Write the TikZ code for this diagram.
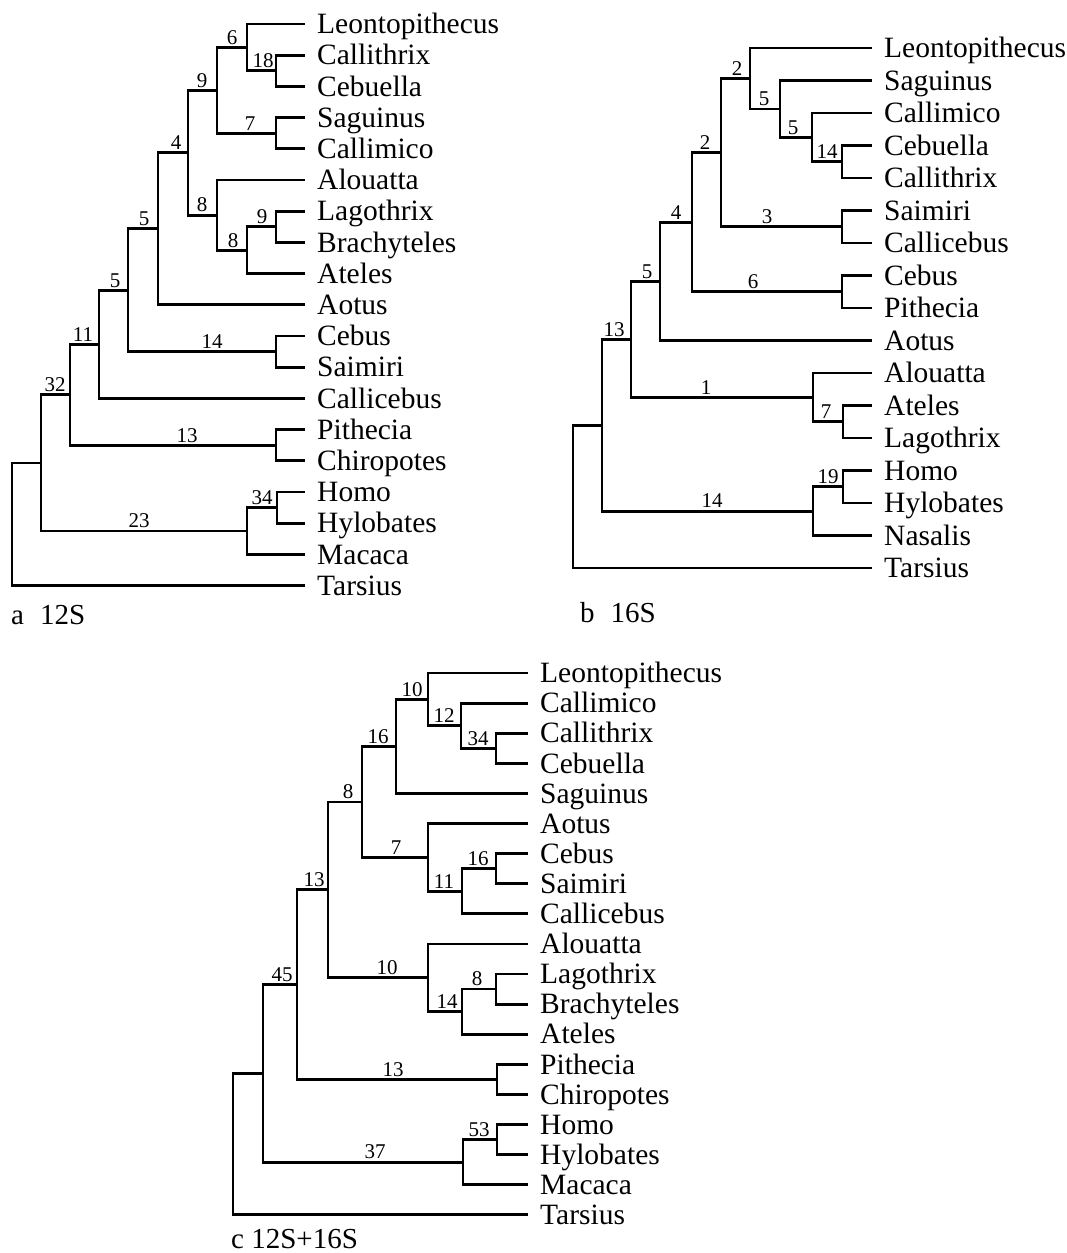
\documentclass[tikz,border=0pt]{standalone}
\usepackage{fontspec}
\setmainfont{Liberation Serif}
\tikzset{
  br/.style={line width=2.8pt, line join=miter},
  lf/.style={font=\fontsize{29.5}{30}\selectfont, anchor=west, inner xsep=12pt, inner ysep=0pt, text height=19.5pt, text depth=0pt},
  bs/.style={font=\fontsize{21}{21}\selectfont, anchor=south, inner sep=0pt, text depth=0pt, yshift=3pt},
  capt/.style={font=\fontsize{29}{29}\selectfont, anchor=base west, inner sep=0pt}
}
\begin{document}
\begin{tikzpicture}[x=1pt,y=-1pt]
\useasboundingbox (0,0) rectangle (1067,1253);

% ================= Tree a (12S) =================
\node[lf] (aLeon)    at (305,24)    {Leontopithecus};
\node[lf] (aCallith) at (305,55.2)  {Callithrix};
\node[lf] (aCebu)    at (305,86.4)  {Cebuella};
\node[lf] (aSagu)    at (305,117.6) {Saguinus};
\node[lf] (aCallim)  at (305,148.8) {Callimico};
\node[lf] (aAlou)    at (305,180)   {Alouatta};
\node[lf] (aLago)    at (305,211.2) {Lagothrix};
\node[lf] (aBrach)   at (305,242.4) {Brachyteles};
\node[lf] (aAteles)  at (305,273.6) {Ateles};
\node[lf] (aAotus)   at (305,304.8) {Aotus};
\node[lf] (aCebus)   at (305,336)   {Cebus};
\node[lf] (aSaim)    at (305,367.2) {Saimiri};
\node[lf] (aCallic)  at (305,398.4) {Callicebus};
\node[lf] (aPith)    at (305,429.6) {Pithecia};
\node[lf] (aChiro)   at (305,460.8) {Chiropotes};
\node[lf] (aHomo)    at (305,492)   {Homo};
\node[lf] (aHylo)    at (305,523.2) {Hylobates};
\node[lf] (aMac)     at (305,554.4) {Macaca};
\node[lf] (aTars)    at (305,585.6) {Tarsius};

\coordinate (a18)   at (276,70.8);
\coordinate (a6)    at (247,47.4);
\coordinate (a7)    at (276,133.2);
\coordinate (a9)    at (217,90.3);
\coordinate (a9b)   at (276,226.8);
\coordinate (a8b)   at (247,250.2);
\coordinate (a8)    at (217,215.1);
\coordinate (a4)    at (188,152.7);
\coordinate (a5)    at (158,228.75);
\coordinate (a14)   at (276,351.6);
\coordinate (a5b)   at (128,290.2);
\coordinate (a11)   at (99,344.3);
\coordinate (a13)   at (276,445.2);
\coordinate (a32)   at (70,394.7);
\coordinate (a34)   at (277,507.6);
\coordinate (a23)   at (247,531);
\coordinate (aR1)   at (41,462.9);
\coordinate (aRoot) at (12,524.2);

\draw[br] (aLeon.west) -| (a6) |- (a18);
\draw[br] (aCallith.west) -| (a18) |- (aCebu.west);
\draw[br] (aSagu.west) -| (a7) |- (aCallim.west);
\draw[br] (a6) -| (a9) |- (a7);
\draw[br] (aLago.west) -| (a9b) |- (aBrach.west);
\draw[br] (a9b) -| (a8b) |- (aAteles.west);
\draw[br] (aAlou.west) -| (a8) |- (a8b);
\draw[br] (a9) -| (a4) |- (a8);
\draw[br] (a4) -| (a5) |- (aAotus.west);
\draw[br] (aCebus.west) -| (a14) |- (aSaim.west);
\draw[br] (a5) -| (a5b) |- (a14);
\draw[br] (a5b) -| (a11) |- (aCallic.west);
\draw[br] (aPith.west) -| (a13) |- (aChiro.west);
\draw[br] (a11) -| (a32) |- (a13);
\draw[br] (aHomo.west) -| (a34) |- (aHylo.west);
\draw[br] (a34) -| (a23) |- (aMac.west);
\draw[br] (a32) -| (aR1) |- (a23);
\draw[br] (aR1) -| (aRoot) |- (aTars.west);

\node[bs] (la1)  at (232,47.4)  {6};
\node[bs] (la2)  at (263,70.8)  {18};
\node[bs] (la3)  at (202,90.3)  {9};
\node[bs] (la4)  at (250,133.2) {7};
\node[bs] (la5)  at (176,152.7) {4};
\node[bs] (la6)  at (202,215.1) {8};
\node[bs] (la7)  at (262,226.8) {9};
\node[bs] (la8)  at (233,250.2) {8};
\node[bs] (la9)  at (144,228.75){5};
\node[bs] (la10) at (212,351.6) {14};
\node[bs] (la11) at (115,290.2) {5};
\node[bs] (la12) at (83,344.3)  {11};
\node[bs] (la13) at (187,445.2) {13};
\node[bs] (la14) at (55,394.7)  {32};
\node[bs] (la15) at (262,507.6) {34};
\node[bs] (la16) at (139,531)   {23};

\node[capt] (capa) at (11,624) {a\hspace{0.55em}12S};

% ================= Tree b (16S) =================
\node[lf] (bLeon)    at (872,48)    {Leontopithecus};
\node[lf] (bSagu)    at (872,80.5)  {Saguinus};
\node[lf] (bCallim)  at (872,113)   {Callimico};
\node[lf] (bCebu)    at (872,145.5) {Cebuella};
\node[lf] (bCallith) at (872,178)   {Callithrix};
\node[lf] (bSaim)    at (872,210.5) {Saimiri};
\node[lf] (bCallic)  at (872,243)   {Callicebus};
\node[lf] (bCebus)   at (872,275.5) {Cebus};
\node[lf] (bPith)    at (872,308)   {Pithecia};
\node[lf] (bAotus)   at (872,340.5) {Aotus};
\node[lf] (bAlou)    at (872,373)   {Alouatta};
\node[lf] (bAteles)  at (872,405.5) {Ateles};
\node[lf] (bLago)    at (872,438)   {Lagothrix};
\node[lf] (bHomo)    at (872,470.5) {Homo};
\node[lf] (bHylo)    at (872,503)   {Hylobates};
\node[lf] (bNas)     at (872,535.5) {Nasalis};
\node[lf] (bTars)    at (872,568)   {Tarsius};

\coordinate (b14)   at (842,161.75);
\coordinate (b5i)   at (812,137.4);
\coordinate (b5)    at (780,108.9);
\coordinate (b2)    at (750,78.5);
\coordinate (b3)    at (842,226.75);
\coordinate (b2b)   at (721,152.6);
\coordinate (b6)    at (842,291.75);
\coordinate (b4)    at (692,222.2);
\coordinate (b5b)   at (660,281.3);
\coordinate (b7)    at (843,421.75);
\coordinate (b1)    at (813,397.4);
\coordinate (b13)   at (631,339.4);
\coordinate (b19)   at (843,486.75);
\coordinate (b14b)  at (813,511.1);
\coordinate (bR1)   at (602,425.3);
\coordinate (bRoot) at (573,496.6);

\draw[br] (bCebu.west) -| (b14) |- (bCallith.west);
\draw[br] (bCallim.west) -| (b5i) |- (b14);
\draw[br] (bSagu.west) -| (b5) |- (b5i);
\draw[br] (bLeon.west) -| (b2) |- (b5);
\draw[br] (bSaim.west) -| (b3) |- (bCallic.west);
\draw[br] (b2) -| (b2b) |- (b3);
\draw[br] (bCebus.west) -| (b6) |- (bPith.west);
\draw[br] (b2b) -| (b4) |- (b6);
\draw[br] (b4) -| (b5b) |- (bAotus.west);
\draw[br] (bAteles.west) -| (b7) |- (bLago.west);
\draw[br] (bAlou.west) -| (b1) |- (b7);
\draw[br] (b5b) -| (b13) |- (b1);
\draw[br] (bHomo.west) -| (b19) |- (bHylo.west);
\draw[br] (b19) -| (b14b) |- (bNas.west);
\draw[br] (b13) -| (bR1) |- (b14b);
\draw[br] (bR1) -| (bRoot) |- (bTars.west);

\node[bs] (lb1)  at (737,78.5)   {2};
\node[bs] (lb2)  at (764,108.9)  {5};
\node[bs] (lb3)  at (793,137.4)  {5};
\node[bs] (lb4)  at (827,161.75) {14};
\node[bs] (lb5)  at (705,152.6)  {2};
\node[bs] (lb6)  at (767,226.75) {3};
\node[bs] (lb7)  at (676,222.2)  {4};
\node[bs] (lb8)  at (753,291.75) {6};
\node[bs] (lb9)  at (647,281.3)  {5};
\node[bs] (lb10) at (614,339.4)  {13};
\node[bs] (lb11) at (706,397.4)  {1};
\node[bs] (lb12) at (826,421.75) {7};
\node[bs] (lb13) at (828,486.75) {19};
\node[bs] (lb14) at (712,511.1)  {14};

\node[capt] (capb) at (580,622) {b\hspace{0.55em}16S};

% ================= Tree c (12S+16S) =================
\node[lf] (cLeon)    at (528,673)    {Leontopithecus};
\node[lf] (cCallim)  at (528,703.1)  {Callimico};
\node[lf] (cCallith) at (528,733.2)  {Callithrix};
\node[lf] (cCebu)    at (528,763.3)  {Cebuella};
\node[lf] (cSagu)    at (528,793.4)  {Saguinus};
\node[lf] (cAotus)   at (528,823.5)  {Aotus};
\node[lf] (cCebus)   at (528,853.6)  {Cebus};
\node[lf] (cSaim)    at (528,883.7)  {Saimiri};
\node[lf] (cCallic)  at (528,913.8)  {Callicebus};
\node[lf] (cAlou)    at (528,943.9)  {Alouatta};
\node[lf] (cLago)    at (528,974)    {Lagothrix};
\node[lf] (cBrach)   at (528,1004.1) {Brachyteles};
\node[lf] (cAteles)  at (528,1034.2) {Ateles};
\node[lf] (cPith)    at (528,1064.3) {Pithecia};
\node[lf] (cChiro)   at (528,1094.4) {Chiropotes};
\node[lf] (cHomo)    at (528,1124.5) {Homo};
\node[lf] (cHylo)    at (528,1154.6) {Hylobates};
\node[lf] (cMac)     at (528,1184.7) {Macaca};
\node[lf] (cTars)    at (528,1214.8) {Tarsius};

\coordinate (c34)   at (496,748.25);
\coordinate (c12)   at (461,725.7);
\coordinate (c10)   at (428,699.35);
\coordinate (c16)   at (396,746.4);
\coordinate (c16b)  at (496,868.65);
\coordinate (c11)   at (462,891.2);
\coordinate (c7)    at (428,857.35);
\coordinate (c8)    at (362,801.9);
\coordinate (c8b)   at (496,989.05);
\coordinate (c14)   at (462,1011.6);
\coordinate (c10b)  at (428,977.75);
\coordinate (c13)   at (328,889.8);
\coordinate (c13b)  at (497,1079.35);
\coordinate (c45)   at (297,984.6);
\coordinate (c53)   at (497,1139.55);
\coordinate (c37)   at (463,1162.1);
\coordinate (cR1)   at (263,1073.35);
\coordinate (cRoot) at (233,1144.1);

\draw[br] (cCallith.west) -| (c34) |- (cCebu.west);
\draw[br] (cCallim.west) -| (c12) |- (c34);
\draw[br] (cLeon.west) -| (c10) |- (c12);
\draw[br] (c10) -| (c16) |- (cSagu.west);
\draw[br] (cCebus.west) -| (c16b) |- (cSaim.west);
\draw[br] (c16b) -| (c11) |- (cCallic.west);
\draw[br] (cAotus.west) -| (c7) |- (c11);
\draw[br] (c16) -| (c8) |- (c7);
\draw[br] (cLago.west) -| (c8b) |- (cBrach.west);
\draw[br] (c8b) -| (c14) |- (cAteles.west);
\draw[br] (cAlou.west) -| (c10b) |- (c14);
\draw[br] (c8) -| (c13) |- (c10b);
\draw[br] (cPith.west) -| (c13b) |- (cChiro.west);
\draw[br] (c13) -| (c45) |- (c13b);
\draw[br] (cHomo.west) -| (c53) |- (cHylo.west);
\draw[br] (c53) -| (c37) |- (cMac.west);
\draw[br] (c45) -| (cR1) |- (c37);
\draw[br] (cR1) -| (cRoot) |- (cTars.west);

\node[bs] (lc1)  at (412,699.35)  {10};
\node[bs] (lc2)  at (444,725.7)   {12};
\node[bs] (lc3)  at (478,748.25)  {34};
\node[bs] (lc4)  at (378,746.4)   {16};
\node[bs] (lc5)  at (348,801.9)   {8};
\node[bs] (lc6)  at (396,857.35)  {7};
\node[bs] (lc7)  at (478,868.65)  {16};
\node[bs] (lc8)  at (444,891.2)   {11};
\node[bs] (lc9)  at (314,889.8)   {13};
\node[bs] (lc10) at (387,977.75)  {10};
\node[bs] (lc11) at (477,989.05)  {8};
\node[bs] (lc12) at (447,1011.6)  {14};
\node[bs] (lc13) at (282,984.6)   {45};
\node[bs] (lc14) at (393,1079.35) {13};
\node[bs] (lc15) at (479,1139.55) {53};
\node[bs] (lc16) at (375,1162.1)  {37};

\node[capt] (capc) at (231,1248) {c 12S+16S};
\end{tikzpicture}
\end{document}
